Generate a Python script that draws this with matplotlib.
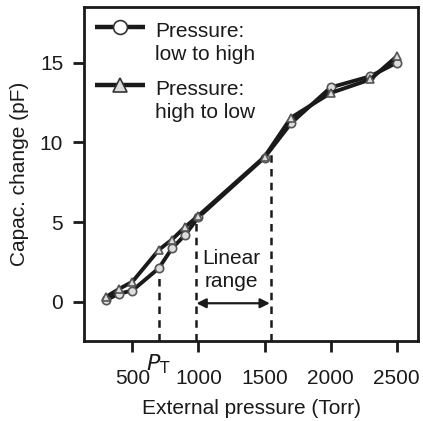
import matplotlib
matplotlib.use("Agg")
import matplotlib.pyplot as plt
from matplotlib.lines import Line2D

plt.rcParams['font.family'] = ['Liberation Sans', 'DejaVu Sans']

pressure = [300, 400, 500, 700, 800, 900, 1000, 1500, 1700, 2000, 2300, 2500]
low_to_high = [0.1, 0.5, 0.7, 2.1, 3.35, 4.2, 5.3, 9.05, 11.2, 13.45, 14.15, 15.0]
high_to_low = [0.3, 0.8, 1.25, 3.25, 3.9, 4.7, 5.4, 9.1, 11.55, 13.1, 13.95, 15.4]
series_labels = ['Pressure:\nlow to high', 'Pressure:\nhigh to low']

pt = 700
lin_lo, lin_hi = 980, 1550
xticks = [500, 1000, 1500, 2000, 2500]
yticks = [0, 5, 10, 15]

fs = 15
ink = '#1a1a1a'
fig = plt.figure(figsize=(4.23, 4.21), dpi=100)
ax = fig.add_axes([84/423, 1 - 341/421, (418-84)/423, (341-7)/421])

ax.plot(pressure, low_to_high, color=ink, lw=2.8, marker='o', ms=6,
        mfc='#dddddd', mec='#555555', mew=1.2, zorder=3)
ax.plot(pressure, high_to_low, color=ink, lw=2.8, marker='^', ms=6,
        mfc='#dddddd', mec='#555555', mew=1.2, zorder=3)

ymin = -2.47
ax.plot([pt, pt], [ymin, 2.1], ls=(0, (3, 2.5)), color=ink, lw=1.8)
ax.plot([lin_lo, lin_lo], [ymin, 5.1], ls=(0, (3, 2.5)), color=ink, lw=1.8)
ax.plot([lin_hi, lin_hi], [ymin, 9.4], ls=(0, (3, 2.5)), color=ink, lw=1.8)

ax.annotate('', xy=(lin_lo + 5, -0.1), xytext=(lin_hi - 10, -0.1),
            arrowprops=dict(arrowstyle='<|-|>', color=ink, lw=1.6,
                            mutation_scale=14, shrinkA=0, shrinkB=0))
ax.text(1252, 2.0, 'Linear\nrange', ha='center', va='center', fontsize=fs,
        linespacing=1.3, color=ink)

ax.set_xlim(134, 2661)
ax.set_ylim(ymin, 18.5)
ax.set_xticks(xticks)
ax.set_yticks(yticks)
ax.tick_params(direction='out', length=8, width=2, labelsize=fs, pad=7,
               colors=ink)
ax.tick_params(axis='x', pad=12)
for s in ax.spines.values():
    s.set_linewidth(2)
    s.set_color(ink)

ax.text(pt, -3.2, r'$P_{\mathrm{T}}$', ha='center', va='top', fontsize=16,
        color=ink, transform=ax.transData)

ax.set_xlabel('External pressure (Torr)', fontsize=fs, labelpad=8, color=ink)
ax.set_ylabel('Capac. change (pF)', fontsize=fs, labelpad=8, color=ink)

# manual legend (handle aligned with first text line, as in the original)
W, H = 334, 334
leg_rows = [(1 - (27 - 7) / H, 'o', 'white'), (1 - (85 - 7) / H, '^', '#dddddd')]
for (yy, mk, fc), lab in zip(leg_rows, series_labels):
    ax.add_line(Line2D([(95 - 84) / W, (145 - 84) / W], [yy, yy], transform=ax.transAxes,
                       color=ink, lw=3.2, solid_capstyle='butt'))
    ax.add_line(Line2D([(120 - 84) / W], [yy], transform=ax.transAxes, marker=mk, ms=10,
                       mfc=fc, mec='#333333', mew=1.2, ls='none'))
    ax.text((155 - 84) / W, yy + 5 / H, lab, transform=ax.transAxes, ha='left', va='top',
            fontsize=fs, linespacing=1.3, color=ink)

fig.savefig('out.png', dpi=100)
